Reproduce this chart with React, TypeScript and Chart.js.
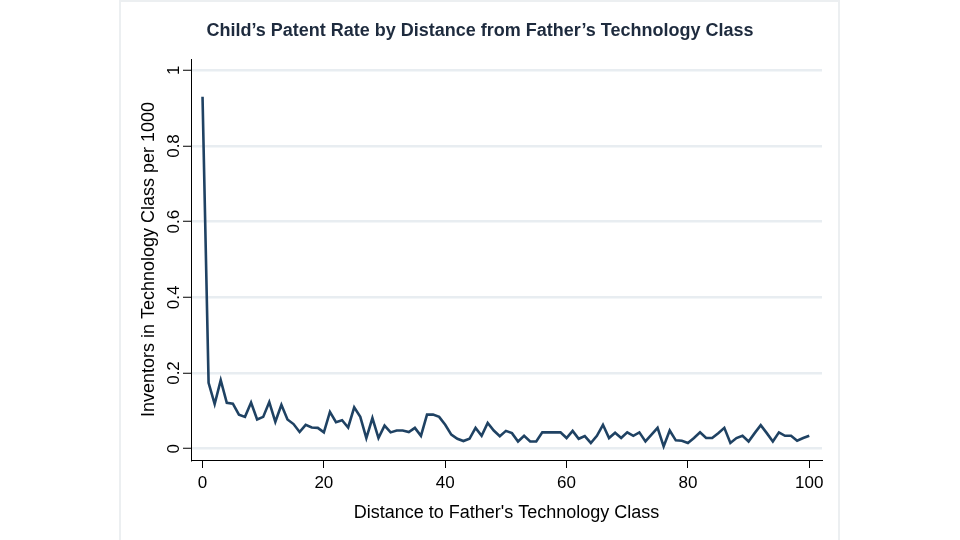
import React, { useEffect, useRef } from "react";
import { Chart, registerables } from "chart.js";

Chart.register(...registerables);

const chartTitle = "Child\u2019s Patent Rate by Distance from Father\u2019s Technology Class";
const xAxisTitle = "Distance to Father's Technology Class";
const yAxisTitle = "Inventors in Technology Class per 1000";

const distances = [
  0, 1, 2, 3, 4, 5, 6, 7, 8, 9, 10, 11, 12, 13, 14, 15, 16, 17, 18, 19, 20,
  21, 22, 23, 24, 25, 26, 27, 28, 29, 30, 31, 32, 33, 34, 35, 36, 37, 38, 39, 40,
  41, 42, 43, 44, 45, 46, 47, 48, 49, 50, 51, 52, 53, 54, 55, 56, 57, 58, 59, 60,
  61, 62, 63, 64, 65, 66, 67, 68, 69, 70, 71, 72, 73, 74, 75, 76, 77, 78, 79, 80,
  81, 82, 83, 84, 85, 86, 87, 88, 89, 90, 91, 92, 93, 94, 95, 96, 97, 98, 99, 100,
];

const patentRates = [
  0.93, 0.174, 0.118, 0.181, 0.121, 0.119, 0.09, 0.084, 0.122, 0.077, 0.084,
  0.123, 0.071, 0.116, 0.077, 0.065, 0.044, 0.063, 0.056, 0.055, 0.043,
  0.097, 0.07, 0.075, 0.056, 0.109, 0.084, 0.028, 0.081, 0.028, 0.061,
  0.043, 0.048, 0.048, 0.044, 0.055, 0.034, 0.09, 0.09, 0.084, 0.063,
  0.037, 0.026, 0.02, 0.026, 0.055, 0.034, 0.068, 0.048, 0.033, 0.047,
  0.041, 0.019, 0.034, 0.019, 0.019, 0.043, 0.043, 0.043, 0.043, 0.028,
  0.047, 0.026, 0.033, 0.015, 0.034, 0.063, 0.028, 0.042, 0.028, 0.043,
  0.034, 0.043, 0.019, 0.037, 0.055, 0.006, 0.048, 0.022, 0.021, 0.015,
  0.028, 0.043, 0.028, 0.028, 0.041, 0.055, 0.015, 0.028, 0.034, 0.019,
  0.041, 0.062, 0.041, 0.019, 0.043, 0.034, 0.034, 0.021, 0.028, 0.034,
];

const xTicks = [0, 20, 40, 60, 80, 100];
const yTicks = [0, 0.2, 0.4, 0.6, 0.8, 1];

const FONT = "'Liberation Sans', Arial, Helvetica, sans-serif";

const panelBorder = {
  id: "panelBorder",
  beforeDraw(chart: any) {
    const ctx = chart.ctx;
    ctx.save();
    ctx.fillStyle = "#ffffff";
    ctx.fillRect(0, 0, chart.width, chart.height);
    ctx.strokeStyle = "#eceff1";
    ctx.lineWidth = 2;
    ctx.strokeRect(120, 1, 719, 545);
    ctx.restore();
  },
};

export default function App() {
  const canvasRef = useRef<HTMLCanvasElement | null>(null);

  useEffect(() => {
    if (!canvasRef.current) return;
    const points = distances.map((d, i) => ({ x: d, y: patentRates[i] }));
    const chart = new Chart(canvasRef.current, {
      type: "line",
      data: {
        datasets: [
          {
            data: points,
            borderColor: "#1f4263",
            borderWidth: 2.6,
            pointRadius: 0,
            tension: 0,
            fill: false,
            yAxisID: "y",
          },
        ],
      },
      plugins: [panelBorder],
      options: {
        animation: false,
        responsive: false,
        maintainAspectRatio: false,
        devicePixelRatio: 1,
        layout: { padding: { left: 0, right: 0, top: 0, bottom: 0 } },
        plugins: {
          legend: { display: false },
          tooltip: { enabled: false },
          title: {
            display: true,
            text: chartTitle,
            color: "#1e2b3e",
            font: { family: FONT, size: 18, weight: "bold" },
            padding: { top: 20.6, bottom: 16.8 },
          },
        },
        scales: {
          x: {
            type: "linear",
            min: -1.9,
            max: 102.1,
            afterBuildTicks: (scale: any) => {
              scale.ticks = xTicks.map((v) => ({ value: v }));
            },
            afterFit: (scale: any) => {
              scale.height = 80;
            },
            ticks: {
              color: "#000",
              font: { family: FONT, size: 17 },
              padding: 5,
              maxRotation: 0,
              minRotation: 0,
              callback: (v: any) => String(v),
            },
            grid: {
              drawOnChartArea: false,
              drawTicks: true,
              tickLength: 8,
              tickColor: "#000",
              tickWidth: 1,
            },
            border: { display: true, color: "#000", width: 1 },
            title: {
              display: true,
              text: xAxisTitle,
              color: "#000",
              font: { family: FONT, size: 18 },
              padding: { top: 0, bottom: 16.4 },
            },
          },
          y: {
            type: "linear",
            position: "left",
            min: -0.03,
            max: 1.03,
            afterBuildTicks: (scale: any) => {
              scale.ticks = yTicks.map((v) => ({ value: v }));
            },
            afterFit: (scale: any) => {
              scale.width = 191;
            },
            ticks: {
              color: "#000",
              font: { family: FONT, size: 17 },
              padding: -3,
              minRotation: 90,
              maxRotation: 90,
              crossAlign: "center",
              callback: (v: any) => String(v),
            },
            grid: {
              drawOnChartArea: true,
              color: "#e8edf1",
              lineWidth: 2.5,
              drawTicks: true,
              tickLength: 8,
              tickColor: "#000",
              tickWidth: 1,
            },
            border: { display: true, color: "#000", width: 1 },
            title: {
              display: true,
              text: yAxisTitle,
              color: "#000",
              font: { family: FONT, size: 18 },
              padding: { top: 138.2, bottom: 0 },
            },
          },
          spacer: {
            type: "linear",
            axis: "y",
            position: "right",
            display: true,
            min: 0,
            max: 1,
            afterFit: (scale: any) => {
              scale.width = 138;
            },
            ticks: { display: false },
            grid: { display: false, drawOnChartArea: false, drawTicks: false },
            border: { display: false },
            title: { display: false },
          },
        },
      } as any,
    });
    return () => chart.destroy();
  }, []);

  return (
    <div style={{ position: "fixed", left: 0, top: 0, width: 960, height: 540, background: "#fff" }}>
      <canvas ref={canvasRef} width={960} height={540} style={{ width: 960, height: 540, display: "block" }} />
    </div>
  );
}
